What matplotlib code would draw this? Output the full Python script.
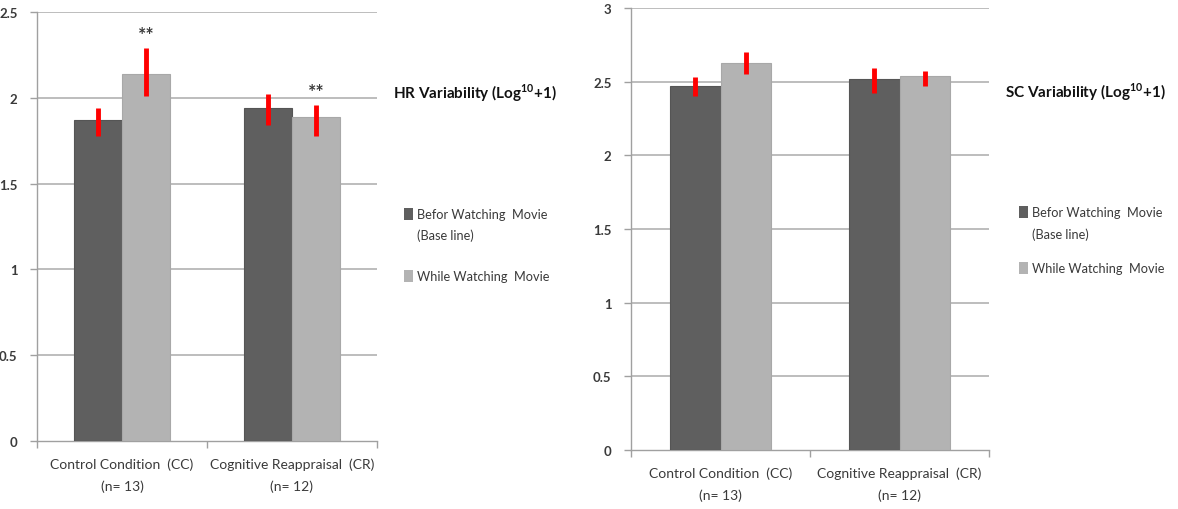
import matplotlib
matplotlib.use("Agg")
import matplotlib.pyplot as plt
import numpy as np

categories = ["Control Condition  (CC)\n(n= 13)", "Cognitive Reappraisal  (CR)\n(n= 12)"]
series_names = ["Befor Watching  Movie\n(Base line)", "While Watching  Movie"]

hr_before = [1.87, 1.94]
hr_while = [2.14, 1.89]
hr_before_err = [0.08, 0.09]
hr_while_err = [0.14, 0.09]
hr_while_err_center = [2.15, 1.87]
hr_before_err_center = [1.86, 1.93]
hr_stars = ["**", "**"]

sc_before = [2.47, 2.52]
sc_while = [2.63, 2.54]
sc_before_err = [0.065, 0.085]
sc_while_err = [0.075, 0.05]
sc_before_err_center = [2.465, 2.505]
sc_while_err_center = [2.625, 2.52]

hr_ticks = [0, 0.5, 1, 1.5, 2, 2.5]
sc_ticks = [0, 0.5, 1, 1.5, 2, 2.5, 3]

dark = "#5f5f5f"
light = "#b3b3b3"
grid_c = "#b8b8b8"
txt_c = "#3a3a3a"
plt.rcParams["font.family"] = ["Lato", "DejaVu Sans"]
plt.rcParams["mathtext.fontset"] = "custom"
plt.rcParams["mathtext.rm"] = "Lato:bold"
plt.rcParams["mathtext.bf"] = "Lato:bold"

fig = plt.figure(figsize=(11.78, 5.10), dpi=100)

def draw(ax, before, whl, bctr, berr, wctr, werr, ticks, ymax, title, title_xy, leg_xy, offs, stars=None):
    x = np.arange(len(before)) + 0.5
    w = 0.282
    ax.bar(x - w / 2, before, w, color=dark, edgecolor="#555555", linewidth=0.8, zorder=3)
    ax.bar(x + w / 2, whl, w, color=light, edgecolor="#a8a8a8", linewidth=0.8, zorder=3)
    ax.errorbar(x - w / 2, bctr, yerr=berr, fmt="none", ecolor="#ff0000", elinewidth=3.5, capsize=0, zorder=4)
    ax.errorbar(x + w / 2, wctr, yerr=werr, fmt="none", ecolor="#ff0000", elinewidth=3.5, capsize=0, zorder=4)
    if stars:
        for xi, c, e, s in zip(x, wctr, werr, stars):
            ax.text(xi + w / 2, c + e + 0.03, s, ha="center", va="bottom", fontsize=14,
                    fontweight="bold", color=txt_c)
    ax.set_xlim(0, len(before))
    ax.set_ylim(0, ymax)
    ax.set_yticks(ticks)
    ax.set_yticklabels([("%g" % t) for t in ticks], fontsize=9.5, color=txt_c, fontweight="bold")
    ax.set_xticks([0, 1, 2], minor=False)
    ax.set_xticklabels([])
    ax.set_xticks(x, minor=True)
    ax.set_xticklabels(categories, minor=True, fontsize=10, color=txt_c, linespacing=1.9)
    ax.tick_params(axis="x", which="minor", length=0, pad=12)
    ax.tick_params(axis="x", which="major", length=5, color="#a0a0a0", width=1)
    ax.tick_params(axis="y", length=5, color="#a0a0a0", width=1, pad=9)
    for t in ticks[1:]:
        ax.axhline(t, color=grid_c, linewidth=1.3, zorder=1)
    for sp in ["top", "right"]:
        ax.spines[sp].set_visible(False)
    for sp in ["left", "bottom"]:
        ax.spines[sp].set_color("#a0a0a0")
        ax.spines[sp].set_linewidth(1)
    fig.text(title_xy[0], title_xy[1], title, fontsize=11, fontweight="bold",
             color="#111111", ha="left", va="center")
    lx, ly = leg_xy
    o1, o2 = offs
    fig.patches.append(plt.Rectangle((lx, ly - 0.011), 0.0075, 0.022, transform=fig.transFigure,
                                     facecolor=dark, edgecolor="none"))
    fig.text(lx + 0.011, ly, series_names[0].split("\n")[0], fontsize=9.2, color=txt_c, va="center")
    fig.text(lx + 0.011, ly - o1, series_names[0].split("\n")[1], fontsize=9.2, color=txt_c, va="center")
    fig.patches.append(plt.Rectangle((lx, ly - o2 - 0.011), 0.0075, 0.022, transform=fig.transFigure,
                                     facecolor=light, edgecolor="none"))
    fig.text(lx + 0.011, ly - o2, series_names[1], fontsize=9.2, color=txt_c, va="center")

ax1 = fig.add_axes([37 / 1178, 1 - 442 / 510, (377 - 37) / 1178, (442 - 13) / 510])
draw(ax1, hr_before, hr_while, hr_before_err_center, hr_before_err,
     hr_while_err_center, hr_while_err, hr_ticks, 2.5,
     r"HR Variability (Log$^{10}$+1)", (393 / 1178, 1 - 93 / 510), (404 / 1178, 1 - 215 / 510),
     (21 / 510, 62 / 510), stars=hr_stars)

ax2 = fig.add_axes([631 / 1178, 1 - 451 / 510, (989 - 631) / 1178, (451 - 9) / 510])
draw(ax2, sc_before, sc_while, sc_before_err_center, sc_before_err,
     sc_while_err_center, sc_while_err, sc_ticks, 3,
     r"SC Variability (Log$^{10}$+1)", (1005 / 1178, 1 - 92 / 510), (1019 / 1178, 1 - 213 / 510),
     (22 / 510, 56 / 510))

fig.savefig("out.png", dpi=100, facecolor="white")
